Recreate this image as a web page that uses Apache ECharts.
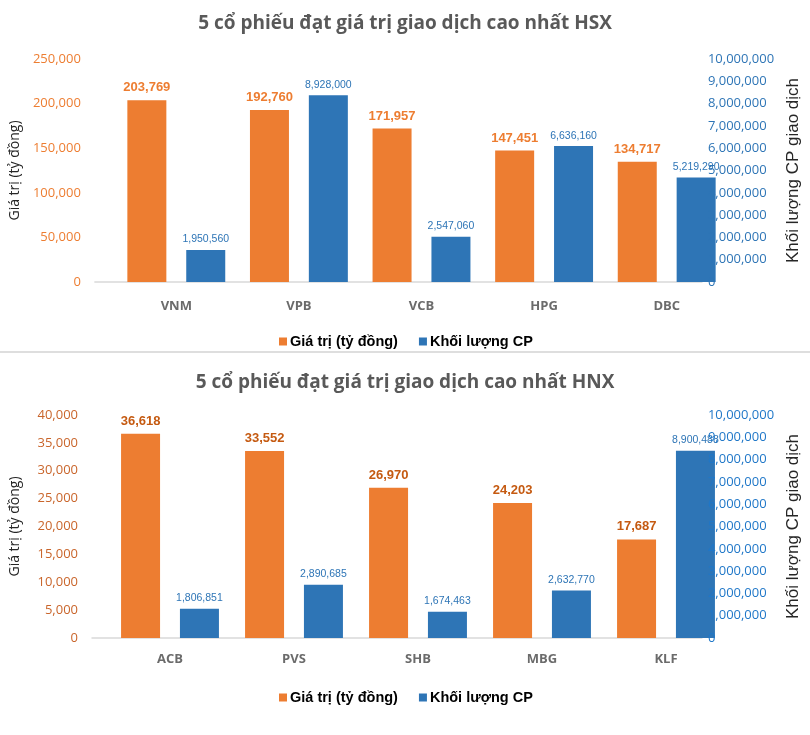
<!DOCTYPE html>
<html><head><meta charset="utf-8">
<script src="https://cdn.jsdelivr.net/npm/echarts@6/dist/echarts.min.js"></script>
<style>html,body{margin:0;padding:0;background:#fff}#c{width:810px;height:735px}</style>
</head><body><div id="c"></div>
<script>
// ---- data ----
const hsxCategories = ['VNM', 'VPB', 'VCB', 'HPG', 'DBC'];
const hsxValue = [203769, 192760, 171957, 147451, 134717];
const hsxVolume = [1950560, 8928000, 2547060, 6636160, 5219290];
const hnxCategories = ['ACB', 'PVS', 'SHB', 'MBG', 'KLF'];
const hnxValue = [36618, 33552, 26970, 24203, 17687];
const hnxVolume = [1806851, 2890685, 1674463, 2632770, 8900488];
// axis ranges [min, max, interval]
const hsxValueTicks = [0, 250000, 50000];
const hnxValueTicks = [0, 40000, 5000];
const volumeTicks = [0, 10000000, 1000000];
// scale actually used by the volume bars in the picture
const hsxVolumeBarScale = [500000, 10570000];
const hnxVolumeBarScale = [500000, 10500000];
const seriesNames = ['Giá trị (tỷ đồng)', 'Khối lượng CP'];
const titles = ['5 cổ phiếu đạt giá trị giao dịch cao nhất HSX', '5 cổ phiếu đạt giá trị giao dịch cao nhất HNX'];

const ORANGE = '#ED7D31', BLUE = '#2E75B6';
const fmt = v => Number(v).toLocaleString('en-US');
const FONT = "'Open Sans', sans-serif";
const ARIAL = "'Liberation Sans', Arial, sans-serif";

function frameX(grid) {
  return { type: 'category', gridIndex: grid, data: hsxCategories.map(() => ''), boundaryGap: true,
    axisLine: { show: true, lineStyle: { color: '#d9d9d9', width: 1.5 } },
    axisTick: { show: false }, axisLabel: { show: false }, splitLine: { show: false } };
}
function catX(grid, cats, margin) {
  return { type: 'category', gridIndex: grid, data: cats,
    axisLine: { show: false }, axisTick: { show: false }, splitLine: { show: false },
    axisLabel: { margin: margin, fontFamily: FONT, fontWeight: 'bold', fontSize: 13, color: '#6b6b6b' } };
}
function leftY(grid, ticks, color) {
  return { type: 'value', gridIndex: grid, position: 'left', min: ticks[0], max: ticks[1], interval: ticks[2],
    name: 'Giá trị (tỷ đồng)', nameLocation: 'middle', nameGap: 70, nameRotate: 90,
    nameTextStyle: { fontFamily: FONT, fontSize: 14, color: '#262626' },
    axisLine: { show: false }, axisTick: { show: false }, splitLine: { show: false },
    axisLabel: { margin: 14, fontFamily: FONT, fontSize: 13, color: color, formatter: fmt } };
}
function rightY(grid, ticks, color) {
  return { type: 'value', gridIndex: grid, position: 'right', min: ticks[0], max: ticks[1], interval: ticks[2], z: 10,
    name: 'Khối lượng CP giao dịch', nameLocation: 'middle', nameGap: 72, nameRotate: 90,
    nameTextStyle: { fontFamily: ARIAL, fontSize: 17, color: '#262626' },
    axisLine: { show: false }, axisTick: { show: false }, splitLine: { show: false },
    axisLabel: { margin: 6, fontFamily: FONT, fontSize: 13, color: color, formatter: fmt } };
}
function hiddenY(grid, min, max, pos) {
  return { type: 'value', gridIndex: grid, position: pos, min: min, max: max, show: false, splitLine: { show: false } };
}
function valueBar(xi, yi, data, labelColor) {
  return { type: 'bar', name: seriesNames[0], xAxisIndex: xi, yAxisIndex: yi, data: data,
    barWidth: 39, barGap: '51%', itemStyle: { color: ORANGE },
    label: { show: true, position: 'top', distance: 6, formatter: p => fmt(p.value),
      fontFamily: ARIAL, fontWeight: 'bold', fontSize: 13, color: labelColor } };
}
function volumeBar(xi, yi, data) {
  return { type: 'bar', name: seriesNames[1], xAxisIndex: xi, yAxisIndex: yi, data: data,
    barWidth: 39, barGap: '51%', itemStyle: { color: BLUE },
    label: { show: true, position: 'top', distance: 5, formatter: p => fmt(p.value),
      fontFamily: ARIAL, fontSize: 10.5, color: BLUE } };
}
function legend(top) {
  return { data: seriesNames, top: top, left: 274, icon: 'rect', itemWidth: 8, itemHeight: 8, itemGap: 21,
    textStyle: { fontFamily: ARIAL, fontWeight: 'bold', fontSize: 14.5, color: '#000', padding: [0, 0, 0, -2] } };
}

const chart = echarts.init(document.getElementById('c'), null, { renderer: 'canvas' });
chart.setOption({
  backgroundColor: '#fff',
  animation: false,
  title: [
    { text: titles[0], left: 'center', top: 9, textStyle: { fontFamily: FONT, fontWeight: 'bold', fontSize: 19, color: '#595959' } },
    { text: titles[1], left: 'center', top: 368, textStyle: { fontFamily: FONT, fontWeight: 'bold', fontSize: 19, color: '#595959' } }
  ],
  legend: [legend(329), legend(685)],
  graphic: [{ type: 'line', shape: { x1: 0, y1: 352, x2: 810, y2: 352 }, style: { stroke: '#dedede', lineWidth: 2 } }],
  grid: [
    { left: 86, width: 630, top: 59, height: 223 },
    { left: 115, width: 613, top: 59, height: 223 },
    { left: 79, width: 637, top: 415, height: 223 },
    { left: 108, width: 620, top: 415, height: 223 }
  ],
  xAxis: [
    frameX(0),
    catX(1, hsxCategories, 18),
    frameX(2),
    catX(3, hnxCategories, 15)
  ],
  yAxis: [
    leftY(0, hsxValueTicks, ORANGE),
    rightY(0, volumeTicks, BLUE),
    hiddenY(1, hsxValueTicks[0], hsxValueTicks[1], 'left'),
    hiddenY(1, hsxVolumeBarScale[0], hsxVolumeBarScale[1], 'right'),
    leftY(2, hnxValueTicks, '#C9652B'),
    rightY(2, volumeTicks, '#1F77C8'),
    hiddenY(3, hnxValueTicks[0], hnxValueTicks[1], 'left'),
    hiddenY(3, hnxVolumeBarScale[0], hnxVolumeBarScale[1], 'right')
  ],
  series: [
    valueBar(1, 2, hsxValue, ORANGE),
    volumeBar(1, 3, hsxVolume),
    valueBar(3, 6, hnxValue, '#C55A11'),
    volumeBar(3, 7, hnxVolume)
  ]
});
</script></body></html>
